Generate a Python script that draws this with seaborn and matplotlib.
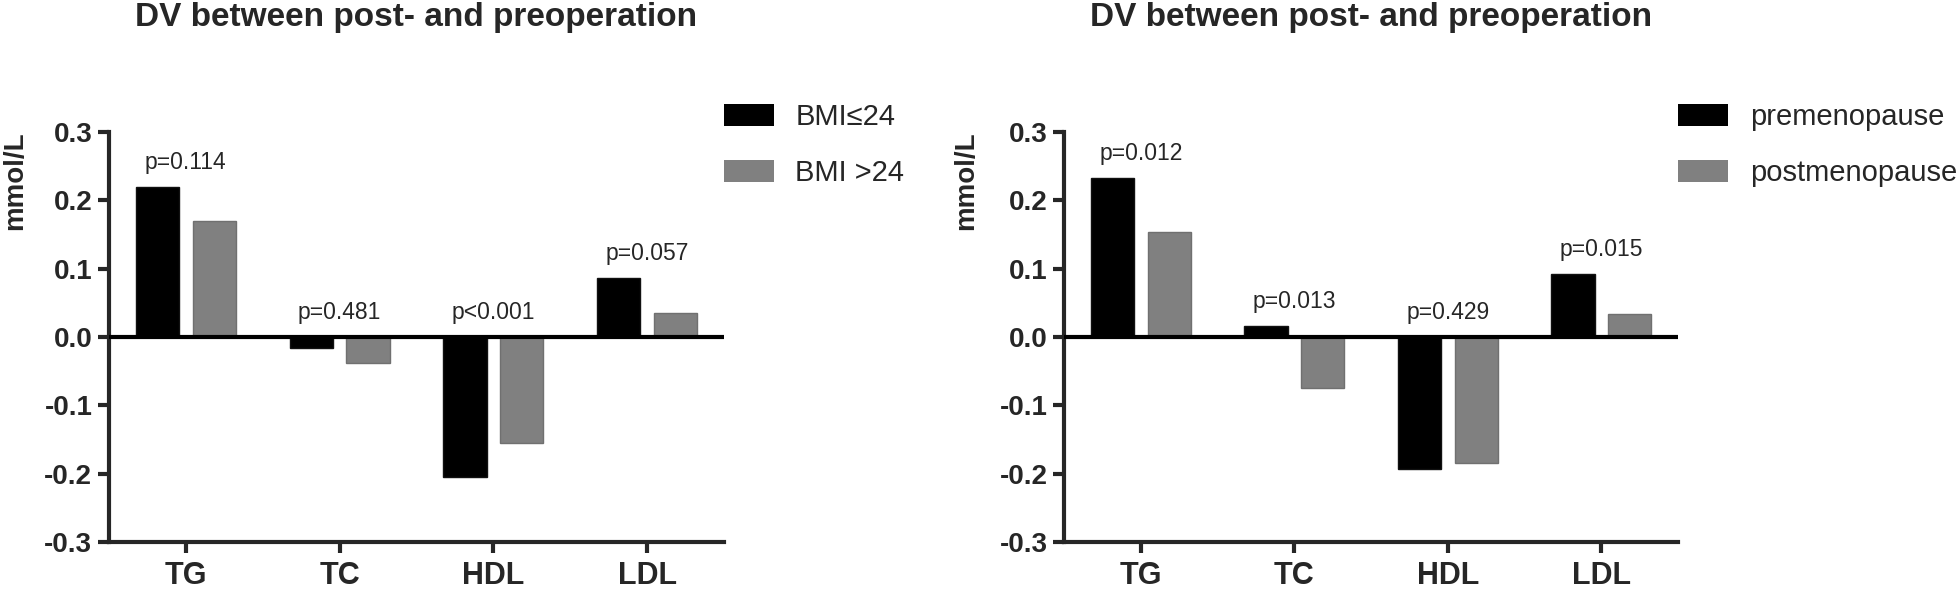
import pandas as pd
import matplotlib
matplotlib.use("Agg")
import matplotlib.pyplot as plt
import seaborn as sns

# Values
lipids = ["TG", "TC", "HDL", "LDL"]

bmi_groups = ["BMI≤24", "BMI >24"]
bmi_low = [0.220, -0.016, -0.205, 0.086]
bmi_high = [0.170, -0.038, -0.155, 0.035]
bmi_p = ["p=0.114", "p=0.481", "p<0.001", "p=0.057"]

meno_groups = ["premenopause", "postmenopause"]
meno_pre = [0.233, 0.016, -0.193, 0.092]
meno_post = [0.154, -0.074, -0.184, 0.034]
meno_p = ["p=0.012", "p=0.013", "p=0.429", "p=0.015"]

yticks = [-0.3, -0.2, -0.1, 0.0, 0.1, 0.2, 0.3]

sns.set_style("ticks")
plt.rcParams["font.family"] = ["Liberation Sans", "DejaVu Sans"]


def long_table(groups, first, second):
    rows = []
    for name, vals in zip(groups, [first, second]):
        for lip, v in zip(lipids, vals):
            rows.append({"lipid": lip, "group": name, "value": v})
    return pd.DataFrame(rows)


def draw_panel(ax, groups, first, second, pvals):
    data = long_table(groups, first, second)
    sns.barplot(data=data, x="lipid", y="value", hue="group", order=lipids,
                hue_order=groups, palette=["black", "#808080"],
                width=0.74, gap=0.24, errorbar=None, ax=ax, linewidth=0)
    for patch, col in zip(ax.patches, ["#111111"] * 4 + ["#707070"] * 4):
        patch.set_edgecolor(col)
        patch.set_linewidth(1.0)

    ax.axhline(0, color="black", lw=3, zorder=3)
    ax.set_xlim(-0.5, 3.5)
    ax.set_ylim(-0.3, 0.3)
    ax.set_yticks(yticks)
    ax.set_yticklabels([f"{v:.1f}" for v in yticks])
    ax.set_xlabel("")
    ax.set_ylabel("mmol/L", fontsize=20, fontweight="bold")
    ax.set_title("DV between post- and preoperation", fontsize=24,
                 fontweight="bold", pad=76)

    # p-values above each pair of bars
    for i, txt in enumerate(pvals):
        top = max(first[i], second[i], 0)
        ax.text(i, top + 0.036, txt, ha="center", va="center", fontsize=16.5)

    sns.despine(ax=ax)
    for side in ["left", "bottom"]:
        ax.spines[side].set_linewidth(3)
    ax.tick_params(axis="y", width=3, length=8, pad=4, labelsize=20)
    ax.tick_params(axis="x", width=3, length=8, pad=6, labelsize=22)
    for lab in ax.get_xticklabels() + ax.get_yticklabels():
        lab.set_fontweight("bold")

    ax.legend(loc="upper left", bbox_to_anchor=(1.0, 1.07), frameon=False,
              fontsize=21, handlelength=1.7, handleheight=0.8,
              handletextpad=0.75, labelspacing=0.95, borderpad=0,
              borderaxespad=0)


fig = plt.figure(figsize=(19.6, 5.9), dpi=100)
ax1 = fig.add_axes([0.0556, 0.0814, 0.3138, 0.6949])
ax2 = fig.add_axes([0.5429, 0.0814, 0.3133, 0.6949])

draw_panel(ax1, bmi_groups, bmi_low, bmi_high, bmi_p)
draw_panel(ax2, meno_groups, meno_pre, meno_post, meno_p)

ax1.yaxis.set_label_coords(-0.132, 0.88)
ax2.yaxis.set_label_coords(-0.138, 0.88)

fig.savefig("out.png", dpi=100, facecolor="white")
